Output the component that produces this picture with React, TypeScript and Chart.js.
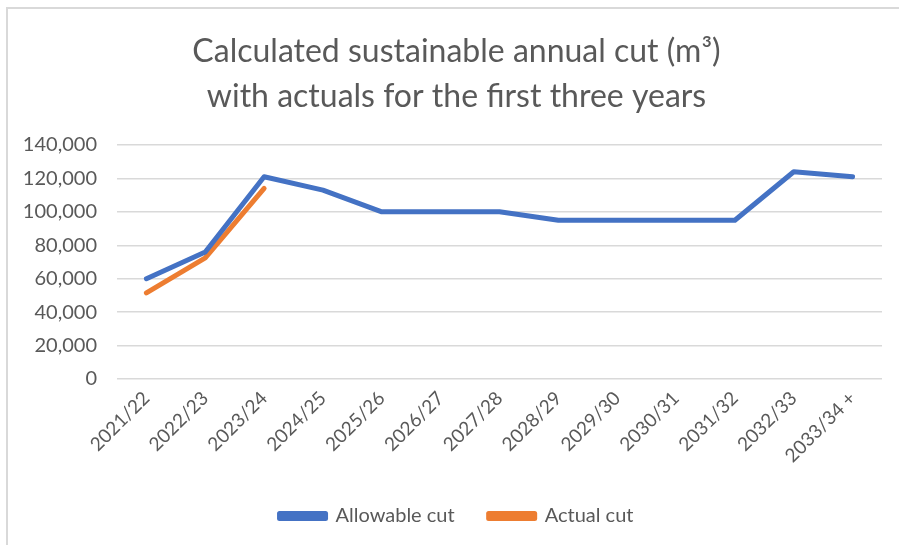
import React, { useEffect, useRef } from "react";
import { Chart, registerables } from "chart.js";

Chart.register(...registerables);

const categories = [
  "2021/22", "2022/23", "2023/24", "2024/25", "2025/26", "2026/27", "2027/28",
  "2028/29", "2029/30", "2030/31", "2031/32", "2032/33", "2033/34 +",
];
const allowableCut = [60000, 76000, 121000, 113000, 100000, 100000, 100000, 95000, 95000, 95000, 95000, 124000, 121000];
const actualCut = [51500, 72500, 114000, null, null, null, null, null, null, null, null, null, null];
const titleLines = ["Calculated sustainable annual cut (m³)", "with actuals for the first three years"];
const yMin = 0;
const yMax = 140000;
const yStep = 20000;

const FONT = "Lato, 'Open Sans', sans-serif";
const TEXT = "#595959";
const GRID = "#d9d9d9";

export default function App() {
  const ref = useRef<HTMLCanvasElement | null>(null);
  useEffect(() => {
    if (!ref.current) return;
    const chart = new Chart(ref.current, {
      type: "line",
      data: {
        labels: categories,
        datasets: [
          {
            label: "Allowable cut",
            data: allowableCut,
            borderColor: "#4472C4",
            backgroundColor: "#4472C4",
            borderWidth: 5,
            pointRadius: 0,
            tension: 0,
            borderCapStyle: "round",
            borderJoinStyle: "round",
          },
          {
            label: "Actual cut",
            data: actualCut,
            borderColor: "#ED7D31",
            backgroundColor: "#ED7D31",
            borderWidth: 5,
            pointRadius: 0,
            tension: 0,
            borderCapStyle: "round",
            borderJoinStyle: "round",
          },
        ],
      },
      options: {
        animation: false,
        responsive: false,
        maintainAspectRatio: false,
        layout: { padding: { left: 16, right: 2, top: 0, bottom: 9 } },
        plugins: {
          title: {
            display: true,
            text: titleLines,
            color: TEXT,
            font: { family: FONT, size: 32, weight: "normal", lineHeight: 1.406 },
            padding: { top: 29, bottom: 26 },
          },
          legend: {
            position: "bottom",
            labels: {
              color: TEXT,
              font: { family: FONT, size: 20 },
              boxWidth: 46,
              boxHeight: 5,
              padding: 34,
            },
          },
          tooltip: { enabled: false },
        },
        scales: {
          x: {
            offset: true,
            grid: { display: false, drawTicks: false },
            border: { display: false },
            ticks: {
              color: TEXT,
              font: { family: FONT, size: 19 },
              minRotation: 45,
              maxRotation: 45,
              autoSkip: false,
              padding: 8,
            },
            afterFit: (s: any) => {
              s.height = 93;
              s.paddingRight = 17;
            },
          },
          y: {
            min: yMin,
            max: yMax,
            grid: { color: GRID, lineWidth: 1.5, drawTicks: false },
            border: { display: false },
            ticks: {
              stepSize: yStep,
              color: TEXT,
              font: { family: FONT, size: 20 },
              padding: 20,
              callback: (v: any) => Number(v).toLocaleString("en-US"),
            },
            afterFit: (s: any) => {
              s.width = 101;
            },
          },
        },
      },
    });
    return () => chart.destroy();
  }, []);
  return (
    <>
      <div
        style={{
          position: "fixed",
          left: 0,
          top: 0,
          width: 899,
          height: 545,
          background: "#fff",
          overflow: "hidden",
        }}
      >
        <div
          style={{
            position: "absolute",
            left: 6,
            top: 7,
            width: 1000,
            height: 1000,
            borderTop: "2px solid " + GRID,
            borderLeft: "2px solid " + GRID,
          }}
        />
        <canvas ref={ref} width={899} height={545} style={{ position: "absolute", left: 0, top: 0 }} />
      </div>
    </>
  );
}
